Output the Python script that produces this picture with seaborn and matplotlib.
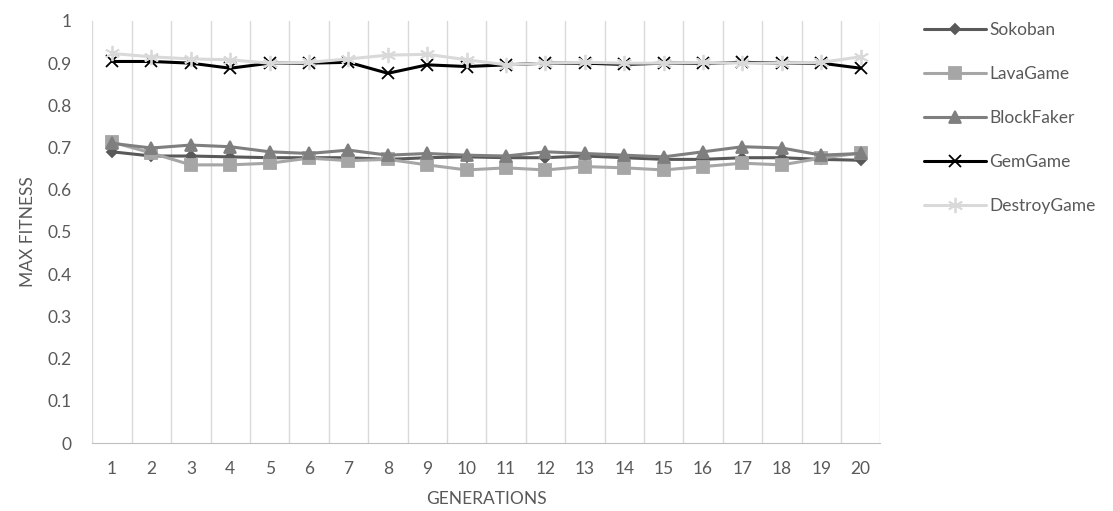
import matplotlib
matplotlib.use("Agg")
import matplotlib.pyplot as plt
import pandas as pd
import seaborn as sns

generations = list(range(1, 21))
sokoban = [0.690, 0.680, 0.680, 0.678, 0.676, 0.676, 0.676, 0.672, 0.676, 0.678,
           0.676, 0.676, 0.680, 0.676, 0.672, 0.672, 0.676, 0.676, 0.672, 0.670]
lava_game = [0.713, 0.687, 0.659, 0.659, 0.663, 0.675, 0.669, 0.672, 0.659, 0.647,
             0.652, 0.647, 0.655, 0.652, 0.647, 0.655, 0.663, 0.659, 0.675, 0.687]
block_faker = [0.710, 0.699, 0.706, 0.702, 0.690, 0.686, 0.694, 0.682, 0.686, 0.682,
               0.680, 0.690, 0.686, 0.682, 0.678, 0.690, 0.702, 0.699, 0.682, 0.686]
gem_game = [0.904, 0.904, 0.900, 0.888, 0.900, 0.900, 0.902, 0.876, 0.896, 0.892,
            0.896, 0.900, 0.900, 0.897, 0.900, 0.900, 0.902, 0.900, 0.900, 0.888]
destroy_game = [0.923, 0.915, 0.910, 0.908, 0.900, 0.902, 0.910, 0.919, 0.921, 0.908,
                0.896, 0.900, 0.902, 0.900, 0.900, 0.902, 0.900, 0.900, 0.902, 0.915]

series = {
    "Sokoban": (sokoban, "#595959", "D", 5),
    "LavaGame": (lava_game, "#a6a6a6", "s", 8),
    "BlockFaker": (block_faker, "#7f7f7f", "^", 8),
    "GemGame": (gem_game, "#000000", "x", 9),
    "DestroyGame": (destroy_game, "#d9d9d9", (6, 2, 0), 11),
}

sns.set_style("white")
plt.rcParams['font.family'] = ['Lato', 'DejaVu Sans']
text_col = "#595959"

fig = plt.figure(figsize=(11.13, 5.11), dpi=100)
ax = fig.add_axes([0.083, 0.133, 0.708, 0.826])

for name, (vals, col, mk, ms) in series.items():
    df = pd.DataFrame({"gen": generations, "val": vals})
    sns.lineplot(data=df, x="gen", y="val", ax=ax, color=col, linewidth=2.2,
                 marker=mk, markersize=ms, markeredgecolor=col, markeredgewidth=1.3,
                 label=name)

ax.set_xlim(0.5, 20.5)
ax.set_ylim(0, 1)
ax.set_xticks(generations)
ax.set_xticklabels([str(g) for g in generations])
ax.set_yticks([i / 10 for i in range(11)])
ax.set_yticklabels(["0"] + [f"0.{i}" for i in range(1, 10)] + ["1"])
for xg in range(21):
    ax.axvline(xg + 0.5, color="#d9d9d9", linewidth=1, zorder=0)

for s in ["top", "right", "left"]:
    ax.spines[s].set_visible(False)
ax.spines["bottom"].set_color("#bfbfbf")
ax.tick_params(axis="both", length=0, labelsize=12.5, colors=text_col)
ax.tick_params(axis="x", pad=13)
ax.tick_params(axis="y", pad=15)

ax.set_xlabel("GENERATIONS", fontsize=12.5, color=text_col, labelpad=10)
ax.set_ylabel("MAX FITNESS", fontsize=12.5, color=text_col, labelpad=8)

leg = ax.legend(loc="upper left", bbox_to_anchor=(1.035, 1.035), frameon=False,
                fontsize=12.5, labelspacing=1.62, handlelength=3.6, handletextpad=0.2)
for t in leg.get_texts():
    t.set_color(text_col)

fig.savefig("out.png", dpi=100)
